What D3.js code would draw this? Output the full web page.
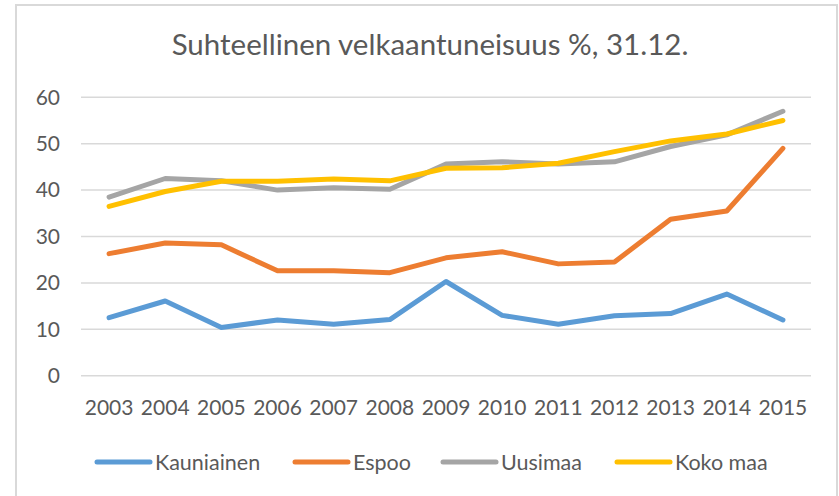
<!DOCTYPE html>
<html>
<head>
<meta charset="utf-8">
<script src="https://cdn.jsdelivr.net/npm/d3@7"></script>
<style>
  html, body { margin: 0; padding: 0; background: #fff; }
  svg { display: block; }
  text { font-family: Lato, "Open Sans", sans-serif; fill: #595959; }
</style>
</head>
<body>
<svg id="chart" width="839" height="496"></svg>
<script>
// Relative indebtedness (%) on 31 Dec, 2003–2015
const years = ["2003","2004","2005","2006","2007","2008","2009","2010","2011","2012","2013","2014","2015"];
const kauniainen = [12.5, 16.1, 10.4, 12.0, 11.1, 12.1, 20.3, 13.0, 11.1, 12.9, 13.4, 17.6, 12.0];
const espoo      = [26.3, 28.6, 28.2, 22.6, 22.6, 22.2, 25.4, 26.7, 24.1, 24.5, 33.7, 35.5, 49.0];
const uusimaa    = [38.5, 42.5, 42.0, 40.0, 40.5, 40.2, 45.6, 46.1, 45.6, 46.1, 49.4, 51.9, 57.0];
const kokoMaa    = [36.5, 39.7, 41.9, 41.9, 42.4, 42.0, 44.7, 44.8, 45.8, 48.3, 50.6, 52.1, 55.0];
const yTicks = [0, 10, 20, 30, 40, 50, 60];
const seriesNames = ["Kauniainen", "Espoo", "Uusimaa", "Koko maa"];
const seriesColors = ["#5b9bd5", "#ed7d31", "#a5a5a5", "#ffc000"];
const title = "Suhteellinen velkaantuneisuus %, 31.12.";

const series = [kauniainen, espoo, uusimaa, kokoMaa].map((values, i) => ({
  name: seriesNames[i], color: seriesColors[i], values
}));

const svg = d3.select("#chart");

// chart frame
svg.append("rect")
  .attr("x", 16).attr("y", 5)
  .attr("width", 821).attr("height", 520)
  .attr("fill", "#fff")
  .attr("stroke", "#d9d9d9").attr("stroke-width", 2);

const plot = { left: 81, right: 811, top: 97.3, bottom: 375.7 };

const x = d3.scaleBand().domain(years).range([plot.left, plot.right]);
const y = d3.scaleLinear().domain([0, 60]).range([plot.bottom, plot.top]);

// horizontal gridlines
svg.append("g")
  .selectAll("line")
  .data(yTicks)
  .join("line")
  .attr("x1", plot.left).attr("x2", plot.right)
  .attr("y1", d => y(d)).attr("y2", d => y(d))
  .attr("stroke", "#d9d9d9").attr("stroke-width", 1.5);

// y axis labels
const yAxis = svg.append("g")
  .attr("transform", `translate(${plot.left},0)`)
  .call(d3.axisLeft(y).tickValues(yTicks).tickSize(0).tickPadding(21));
yAxis.select(".domain").remove();
yAxis.selectAll("text")
  .style("font-family", "Lato, sans-serif")
  .style("font-size", "21px")
  .attr("fill", "#595959");

// x axis labels
const xAxis = svg.append("g")
  .attr("transform", `translate(0,${plot.bottom})`)
  .call(d3.axisBottom(x).tickSize(0).tickPadding(24));
xAxis.select(".domain").remove();
xAxis.selectAll("text")
  .style("font-family", "Lato, sans-serif")
  .style("font-size", "21px")
  .attr("fill", "#595959");

// series lines
const line = d3.line()
  .x((d, i) => x(years[i]) + x.bandwidth() / 2)
  .y(d => y(d));

svg.append("g")
  .selectAll("path")
  .data(series)
  .join("path")
  .attr("d", d => line(d.values))
  .attr("fill", "none")
  .attr("stroke", d => d.color)
  .attr("stroke-width", 5)
  .attr("stroke-linecap", "round")
  .attr("stroke-linejoin", "round");

// title
svg.append("text")
  .attr("x", 430).attr("y", 55)
  .attr("text-anchor", "middle")
  .style("font-size", "29.5px")
  .text(title);

// legend
const legendX = [97, 295, 443, 617];
const legend = svg.append("g")
  .selectAll("g")
  .data(series)
  .join("g")
  .attr("transform", (d, i) => `translate(${legendX[i]},462)`);
legend.append("line")
  .attr("x1", 0).attr("x2", 53)
  .attr("stroke", d => d.color)
  .attr("stroke-width", 5)
  .attr("stroke-linecap", "round");
legend.append("text")
  .attr("x", 58).attr("dy", "0.35em")
  .style("font-size", "21.5px")
  .text(d => d.name);
</script>
</body>
</html>
